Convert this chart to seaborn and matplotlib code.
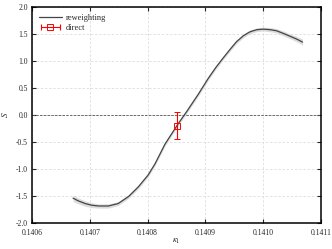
import matplotlib
matplotlib.use('Agg')
import matplotlib.pyplot as plt
from matplotlib.lines import Line2D
from matplotlib.legend_handler import HandlerLine2D
import seaborn as sns
import pandas as pd

# ── Data ──────────────────────────────────────────────────────────────────────
kappa = [0.140671, 0.140680, 0.140692, 0.140703, 0.140715, 0.140732,
         0.140749, 0.140767, 0.140784, 0.140801, 0.140813, 0.140830,
         0.140853, 0.140868, 0.140888, 0.140905, 0.140918, 0.140931,
         0.140943, 0.140954, 0.140966, 0.140977, 0.140989, 0.141000,
         0.141012, 0.141023, 0.141035, 0.141046, 0.141057, 0.141068]
s_rew = [-1.54, -1.59, -1.64, -1.67, -1.685, -1.685,
         -1.64, -1.51, -1.33, -1.11, -0.90, -0.54,
         -0.16, 0.07, 0.39, 0.68, 0.88, 1.06,
         1.22, 1.36, 1.47, 1.54, 1.58, 1.59,
         1.58, 1.56, 1.51, 1.46, 1.41, 1.35]
s_err = [0.06, 0.055, 0.05, 0.045, 0.04, 0.04,
         0.035, 0.035, 0.035, 0.035, 0.035, 0.035,
         0.035, 0.035, 0.035, 0.035, 0.035, 0.035,
         0.035, 0.035, 0.035, 0.035, 0.035, 0.035,
         0.04, 0.04, 0.045, 0.045, 0.05, 0.055]

kappa_direct = [0.14085]
s_direct = [-0.195]
s_direct_err = [0.255]

xticks = [0.1406, 0.1407, 0.1408, 0.1409, 0.1410, 0.1411]
xticklabels = ['0.1406', '0.1407', '0.1408', '0.1409', '0.1410', '0.1411']
yticks = [-2.0, -1.5, -1.0, -0.5, 0.0, 0.5, 1.0, 1.5, 2.0]
yticklabels = ['-2.0', '-1.5', '-1.0', '-0.5', '0.0', '0.5', '1.0', '1.5', '2.0']

df = pd.DataFrame({'kappa': kappa, 'S': s_rew, 'err': s_err})

# ── Plot ──────────────────────────────────────────────────────────────────────
sns.set_theme(style='ticks')
plt.rcParams['font.family'] = ['Liberation Serif', 'DejaVu Serif']
plt.rcParams['mathtext.fontset'] = 'stix'

fig = plt.figure(figsize=(3.32, 2.49), dpi=100)
ax = fig.add_axes([0.0964, 0.1044, 0.8706, 0.8675])

ax.grid(True, color='#dddddd', linestyle=(0, (3, 2)), linewidth=0.6)
ax.set_axisbelow(True)

ax.fill_between(df['kappa'], df['S'] - df['err'], df['S'] + df['err'],
                color='#d4d4d4', alpha=0.8, linewidth=0)
sns.lineplot(data=df, x='kappa', y='S', ax=ax, color='#444444',
             linewidth=0.9, legend=False)
ax.axhline(0.0, color='#555555', linestyle=(0, (3, 1.5)), linewidth=0.6)
ax.errorbar(kappa_direct, s_direct, yerr=s_direct_err, fmt='s', color='red',
            mfc='none', ms=4, mew=0.7, elinewidth=0.8, capsize=2.5,
            capthick=0.8)

ax.set_xlim(0.1406, 0.1411)
ax.set_ylim(-2.0, 2.0)
ax.set_xticks(xticks, xticklabels)
ax.set_yticks(yticks, yticklabels)
ax.tick_params(direction='in', length=3, width=0.8, labelsize=5.5,
               top=True, right=True)
ax.tick_params(axis='x', pad=4)
ax.tick_params(axis='y', pad=3)
for sp in ax.spines.values():
    sp.set_linewidth(1.1)
    sp.set_color('black')

ax.set_xlabel(r'$\kappa_1$', fontsize=6.5)
ax.set_ylabel(r'$S$', fontsize=6.5)
ax.xaxis.set_label_coords(0.5, -0.065)
ax.yaxis.set_label_coords(-0.075, 0.5)

# legend: gnuplot-like key with horizontal error bar for "direct"
h_rew = Line2D([], [], color='#444444', linewidth=0.9)
h_cap = Line2D([], [], color='red', linewidth=0.8, marker='|', ms=5, mew=0.8)
h_sq = Line2D([], [], color='red', linestyle='none', marker='s', ms=4,
              mfc='none', mew=0.7)
ax.legend([h_rew, (h_cap, h_sq)], ['reweighting', 'direct'],
          handler_map={h_cap: HandlerLine2D(numpoints=2)},
          loc='upper left', frameon=False, fontsize=6, handlelength=2.8,
          borderaxespad=0.4, labelspacing=0.25, handletextpad=0.5,
          numpoints=1)

fig.savefig('out.png', dpi=100)
